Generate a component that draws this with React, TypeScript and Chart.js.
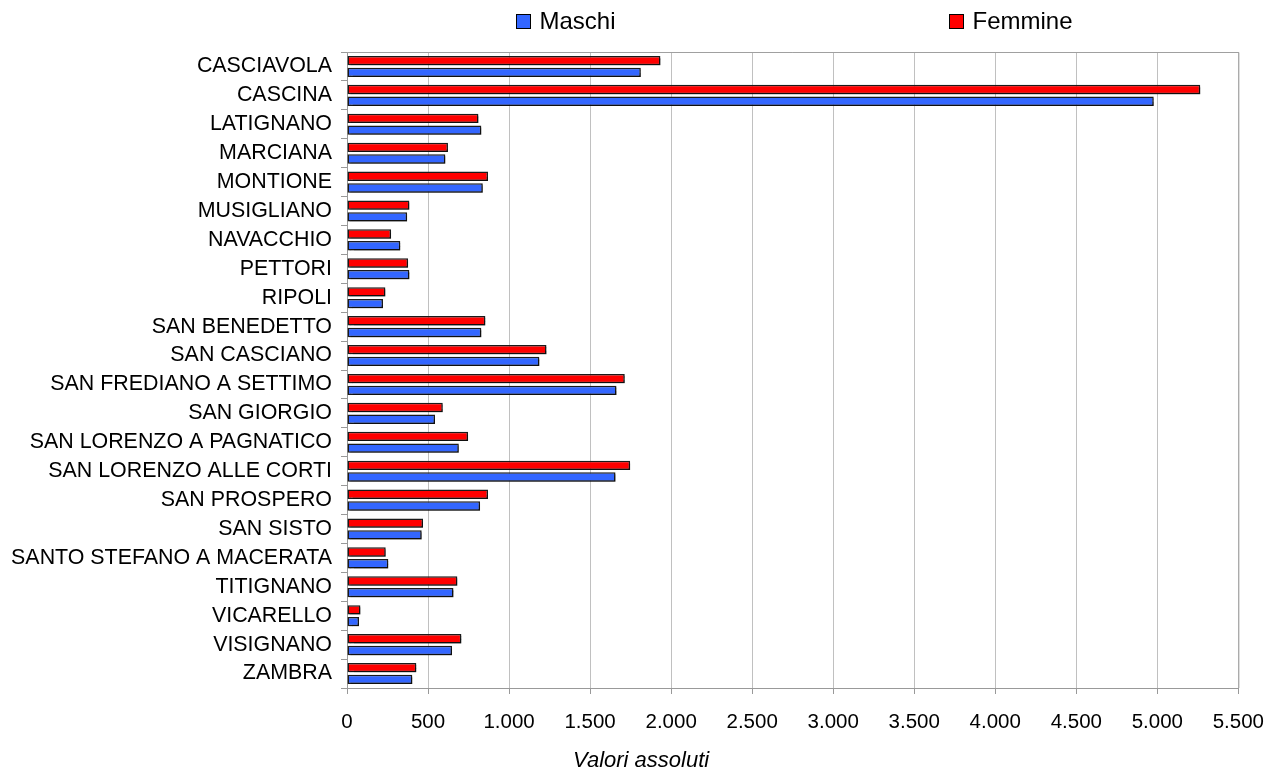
import React, { useEffect, useRef } from "react";
import { Chart, registerables } from "chart.js";

Chart.register(...registerables);

const categories = [
  "CASCIAVOLA",
  "CASCINA",
  "LATIGNANO",
  "MARCIANA",
  "MONTIONE",
  "MUSIGLIANO",
  "NAVACCHIO",
  "PETTORI",
  "RIPOLI",
  "SAN BENEDETTO",
  "SAN CASCIANO",
  "SAN FREDIANO A SETTIMO",
  "SAN GIORGIO",
  "SAN LORENZO A PAGNATICO",
  "SAN LORENZO ALLE CORTI",
  "SAN PROSPERO",
  "SAN SISTO",
  "SANTO STEFANO A MACERATA",
  "TITIGNANO",
  "VICARELLO",
  "VISIGNANO",
  "ZAMBRA",
];

const femmine = [1934, 5265, 811, 623, 870, 385, 272, 377, 237, 854, 1231, 1714, 591, 747, 1747, 870, 469, 239, 681, 83, 706, 428];
const maschi = [1813, 4978, 829, 607, 838, 371, 329, 385, 222, 829, 1187, 1663, 543, 690, 1657, 821, 461, 255, 657, 74, 648, 403];

const xTicksMax = 5500;
const xStep = 500;
const axisTitle = "Valori assoluti";

const FONT = "'Liberation Sans', Arial, sans-serif";

const fmt = (v: number) => String(v).replace(/\B(?=(\d{3})+(?!\d))/g, ".");

const shadowPlugin = {
  id: "barShadow",
  beforeDatasetsDraw(chart: any) {
    const ctx = chart.ctx;
    ctx.save();
    ctx.shadowColor = "rgba(0,0,0,0.4)";
    ctx.shadowOffsetX = 2;
    ctx.shadowOffsetY = 2;
    ctx.shadowBlur = 1;
  },
  afterDatasetsDraw(chart: any) {
    chart.ctx.restore();
  },
};

const decorPlugin = {
  id: "decor",
  afterDraw(chart: any) {
    const ctx = chart.ctx;
    const a = chart.chartArea;
    const w = a.right - a.left;
    ctx.save();
    // top & right border
    ctx.strokeStyle = "#a0a0a0";
    ctx.lineWidth = 1;
    ctx.beginPath();
    ctx.moveTo(a.left, a.top + 0.5);
    ctx.lineTo(a.right + 0.5, a.top + 0.5);
    ctx.lineTo(a.right + 0.5, a.bottom);
    ctx.stroke();

    // legend (Maschi first, Femmine second)
    const items = [
      { ds: chart.data.datasets[1], frac: 0.19 },
      { ds: chart.data.datasets[0], frac: 0.675 },
    ];
    ctx.font = `24px ${FONT}`;
    ctx.textBaseline = "middle";
    ctx.textAlign = "left";
    for (const it of items) {
      const x = Math.round(a.left + w * it.frac) + 0.5;
      const y = 14.5;
      ctx.fillStyle = it.ds.backgroundColor;
      ctx.fillRect(x, y, 14, 14);
      ctx.strokeStyle = "#000";
      ctx.lineWidth = 1;
      ctx.strokeRect(x, y, 14, 14);
      ctx.fillStyle = "#000";
      ctx.fillText(it.ds.label, x + 23, 22);
    }

    // axis title
    ctx.font = `italic 22px ${FONT}`;
    ctx.textAlign = "center";
    ctx.fillStyle = "#000";
    ctx.fillText(axisTitle, a.left + w * 0.33, 761);
    ctx.restore();
  },
};

export default function App() {
  const ref = useRef<HTMLCanvasElement | null>(null);

  useEffect(() => {
    if (!ref.current) return;
    const chart = new Chart(ref.current, {
      type: "bar",
      data: {
        labels: categories,
        datasets: [
          {
            label: "Femmine",
            data: femmine,
            backgroundColor: "#ff0000",
            borderColor: "#1a1a1a",
            borderWidth: 1.5,
            borderSkipped: false,
            categoryPercentage: 0.81,
            barPercentage: 0.8,
          },
          {
            label: "Maschi",
            data: maschi,
            backgroundColor: "#3366ff",
            borderColor: "#1a1a1a",
            borderWidth: 1.5,
            borderSkipped: false,
            categoryPercentage: 0.81,
            barPercentage: 0.8,
          },
        ],
      },
      options: {
        indexAxis: "y",
        animation: false,
        responsive: true,
        maintainAspectRatio: false,
        layout: { padding: { top: 52, right: 41, bottom: 0, left: 0 } },
        plugins: {
          legend: { display: false },
          tooltip: { enabled: false },
        },
        scales: {
          x: {
            min: 0,
            max: xTicksMax,
            ticks: {
              stepSize: xStep,
              color: "#000",
              font: { family: FONT, size: 20.5 },
              padding: 16,
              callback: (v: any) => fmt(Number(v)),
            },
            grid: {
              color: "#c0c0c0",
              tickColor: "#999",
              tickLength: 6,
              lineWidth: 1,
            },
            border: { color: "#999" },
            afterFit: (s: any) => {
              s.height = 85;
            },
          },
          y: {
            ticks: {
              color: "#000",
              font: { family: FONT, size: 21.4 },
              padding: 9,
              autoSkip: false,
            },
            grid: {
              drawOnChartArea: false,
              tickLength: 6,
              tickColor: "#999",
            },
            border: { color: "#999" },
            afterFit: (s: any) => {
              s.width = 347;
            },
          },
        },
      },
      plugins: [shadowPlugin, decorPlugin],
    });
    return () => chart.destroy();
  }, []);

  return (
    <div style={{ position: "fixed", left: 0, top: 0, width: "1280px", height: "773px", background: "#fff" }}>
      <canvas ref={ref} />
    </div>
  );
}
